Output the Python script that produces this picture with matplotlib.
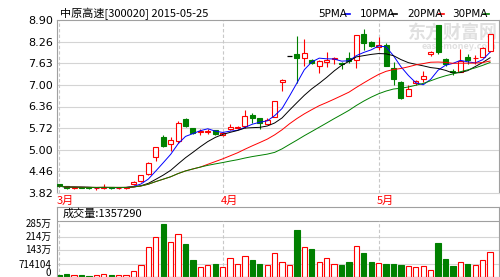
import numpy as np
import pandas as pd
import matplotlib
matplotlib.use('Agg')
import matplotlib.pyplot as plt
import matplotlib.transforms as mtrans
from matplotlib.patches import Rectangle

plt.rcParams['font.family'] = ['Noto Sans CJK SC', 'DejaVu Sans']

title = '中原高速[300020] 2015-05-25'
vol_title = '成交量:1357290'

# daily candles, 2015-03-02 .. 2015-05-25
opens = [4.08, 4.02, 3.97, 4.00, 3.99, 3.96, 3.97, 4.00, 3.96, 3.96,
         4.08, 4.17, 4.39, 4.88, 5.47, 5.25, 5.34, 5.99, 5.72, 5.61,
         5.60, 5.67, 5.51, 5.69, 5.73, 5.79, 6.11, 6.01, 5.86, 6.06,
         7.07, 7.84, 7.89, 7.79, 7.74, 7.55, 7.68, 7.75, 7.63, 7.77,
         7.74, 8.49, 8.26, 8.10, 8.17, 7.50, 7.09, 6.68, 7.05, 7.16,
         7.89, 8.75, 7.75, 7.39, 7.38, 7.82, 7.78, 7.82, 7.99]
closes = [4.02, 3.97, 3.99, 3.98, 3.97, 3.97, 4.00, 3.97, 3.98, 3.99,
          4.14, 4.34, 4.70, 5.16, 5.20, 5.37, 5.89, 5.79, 5.57, 5.63,
          5.65, 5.55, 5.59, 5.76, 5.75, 6.09, 6.01, 5.88, 5.96, 6.52,
          7.14, 7.84, 7.79, 7.92, 7.65, 7.70, 7.74, 7.77, 7.60, 7.70,
          8.46, 8.21, 8.15, 8.17, 7.56, 7.16, 6.60, 6.87, 7.10, 7.26,
          7.95, 7.95, 7.60, 7.37, 7.70, 7.74, 7.79, 8.07, 8.48]
highs = [4.09, 4.03, 4.00, 4.01, 4.00, 3.98, 4.07, 4.01, 3.99, 4.00,
         4.16, 4.36, 4.72, 5.18, 5.52, 5.45, 5.93, 6.03, 5.74, 5.69,
         5.70, 5.68, 5.60, 5.86, 5.78, 6.25, 6.18, 6.02, 6.03, 6.53,
         7.16, 7.84, 8.44, 8.33, 7.76, 7.72, 7.97, 7.82, 7.68, 7.95,
         8.47, 8.65, 8.28, 8.41, 8.21, 7.68, 7.10, 6.99, 7.15, 7.40,
         7.99, 8.75, 7.78, 7.45, 8.04, 7.90, 7.87, 8.10, 8.50]
lows = [4.00, 3.95, 3.95, 3.96, 3.95, 3.91, 3.95, 3.95, 3.95, 3.95,
        4.05, 4.14, 4.34, 4.76, 5.16, 5.06, 5.30, 5.76, 5.55, 5.53,
        5.55, 5.53, 5.50, 5.67, 5.70, 5.74, 5.88, 5.69, 5.84, 6.04,
        6.82, 7.84, 7.04, 7.55, 7.62, 7.35, 7.53, 7.61, 7.45, 7.64,
        7.48, 8.02, 8.12, 8.02, 7.54, 6.99, 6.57, 6.66, 7.00, 7.09,
        7.85, 7.90, 7.55, 7.29, 7.36, 7.60, 7.62, 7.80, 7.97]
volumes = [0.12, 0.18, 0.10, 0.12, 0.06, 0.12, 0.18, 0.12, 0.12, 0.12,
           0.30, 0.65, 1.63, 2.12, 2.856, 1.89, 2.31, 1.77, 0.89, 0.55,
           0.65, 0.71, 0.55, 1.01, 0.71, 1.14, 0.93, 0.69, 0.63, 1.28,
           0.79, 0.63, 2.52, 1.63, 1.52, 0.79, 1.04, 0.69, 0.63, 0.81,
           1.67, 1.28, 0.81, 0.74, 0.69, 0.69, 0.63, 0.57, 0.51, 0.57,
           0.37, 1.82, 0.98, 0.57, 0.79, 0.69, 0.63, 0.93, 1.357290]

month_pos = [0, 22, 43]
month_labels = ['3月', '4月', '5月']
price_ticks = [3.82, 4.46, 5.09, 5.72, 6.36, 7.00, 7.63, 8.26, 8.90]
price_labels = ['3.82', '4.46', '5.00', '5.72', '6.36', '7.00', '7.63', '8.26', '8.90']
vol_ticks = [0, 714104, 1428208, 2142312, 2856416]
vol_labels = ['0', '714104', '143万', '214万', '285万']
ma_windows = [5, 10, 20, 30]
ma_colors = ['#0000ff', '#000000', '#ff0000', '#008000']

RED = '#ff0000'
GREEN = '#008000'
GRID = '#d4d4d4'
BORDER = '#a0a0a0'

n = len(closes)
x = np.arange(n)
vol = np.array(volumes) * 1e6

fig = plt.figure(figsize=(5.0, 2.77), dpi=100)
ax = fig.add_axes([57 / 500, 84 / 277, 442 / 500, 173 / 277])
axv = fig.add_axes([57 / 500, 0.0, 442 / 500, 70 / 277])

xmin, xmax = -0.3, 59.2
bw = 0.68

# price panel
for t in price_ticks[1:-1]:
    ax.axhline(t, color=GRID, lw=0.8, zorder=0)
for m in month_pos:
    ax.axvline(m, color='#c8c8c8', lw=0.8, ls=(0, (3, 2)), zorder=0)

for i in range(n):
    o, c, h, l = opens[i], closes[i], highs[i], lows[i]
    if o == c:
        ax.vlines(i, l, h, color='k', lw=0.8, zorder=2)
        ax.hlines(c, i - bw / 2, i + bw / 2, color='k', lw=0.9, zorder=2)
        continue
    col = RED if c > o else GREEN
    ax.vlines(i, l, h, color=col, lw=0.8, zorder=2)
    fc = 'white' if c > o else GREEN
    ax.add_patch(Rectangle((i - bw / 2, min(o, c)), bw, max(abs(c - o), 0.015),
                           facecolor=fc, edgecolor=col, lw=0.8, zorder=3))

s = pd.Series(closes)
for w, col in zip(ma_windows, ma_colors):
    ax.plot(x, s.rolling(w, min_periods=1).mean(), color=col, lw=0.7, zorder=4)

ax.set_xlim(xmin, xmax)
ax.set_ylim(3.82, 8.90)
ax.set_yticks(price_ticks)
ax.set_yticklabels(price_labels, fontsize=8, family='DejaVu Sans')
ax.set_xticks([])
ax.tick_params(axis='y', length=0, pad=3)
for side in ['left', 'top', 'right', 'bottom']:
    ax.spines[side].set_color(BORDER)
    ax.spines[side].set_linewidth(0.8)
ax.spines['bottom'].set_color(GRID)

for m, lab in zip(month_pos, month_labels):
    ax.text(m - 0.3, 3.82 - 0.08, lab, color=RED, fontsize=8, ha='left', va='top')

fig.text(60 / 500, 1 - 14 / 277, title, fontsize=8, ha='left', va='center')

# legend
leg_x = [318, 360, 407, 452]
leg_names = ['5PMA', '10PMA', '20PMA', '30PMA']
for lx, name, col in zip(leg_x, leg_names, ma_colors):
    fig.text(lx / 500, 1 - 14 / 277, name, fontsize=7.5, ha='left', va='center',
             family='DejaVu Sans')
    seg = lx + (27 if len(name) == 4 else 32)
    fig.add_artist(plt.Line2D([seg / 500, (seg + 5) / 500], [1 - 14 / 277] * 2,
                              color=col, lw=1.2))

# watermark
ax.text(0.998, 0.93, '东方财富网', transform=ax.transAxes, fontsize=13, color='#e0e0e0',
        ha='right', va='center', fontweight='bold', zorder=1)
ax.text(0.995, 0.845, 'east-money.com', transform=ax.transAxes, fontsize=6.5,
        color='#e0e0e0', ha='right', va='center', fontweight='bold', zorder=1)

# volume panel
vtop = 2856416 * 70 / 53.4
for t in vol_ticks[1:4]:
    axv.axhline(t, color=GRID, lw=0.8, zorder=0)
axv.axhline(vtop * 56 / 70, color=BORDER, lw=0.8, zorder=0)
for m in month_pos:
    axv.axvline(m, color='#c8c8c8', lw=0.8, ls=(0, (3, 2)), ymax=56 / 70, zorder=0)

vbw = 0.72
for i in range(n):
    up = closes[i] >= opens[i]
    col = RED if up else GREEN
    axv.add_patch(Rectangle((i - vbw / 2, 0), vbw, vol[i],
                            facecolor='white' if up else GREEN, edgecolor=col,
                            lw=0.8, zorder=2))

axv.set_xlim(xmin, xmax)
axv.set_ylim(0, vtop)
axv.set_yticks(vol_ticks)
axv.set_yticklabels([])
axv.tick_params(axis='y', length=0)
axv.set_xticks([])
for side in ['left', 'top', 'right', 'bottom']:
    axv.spines[side].set_color(BORDER)
    axv.spines[side].set_linewidth(0.8)

# volume tick labels placed by hand so the two lowest do not collide
lab_tr = mtrans.blended_transform_factory(axv.transAxes, axv.transData)
shift = {0: (-4, 0.5, 'baseline'), 1: (-4, -3.0, 'baseline')}
for k, (t, lab) in enumerate(zip(vol_ticks, vol_labels)):
    dx, dy, va = shift.get(k, (-4, 0, 'center'))
    tr = mtrans.offset_copy(lab_tr, fig=fig, x=dx, y=dy, units='points')
    axv.text(0, t, lab, transform=tr, fontsize=7, ha='right', va=va, clip_on=False)

axv.text(0.5, vtop * 63 / 70, vol_title, fontsize=8, ha='left', va='center')

fig.savefig('out.png', dpi=100, facecolor='white')
